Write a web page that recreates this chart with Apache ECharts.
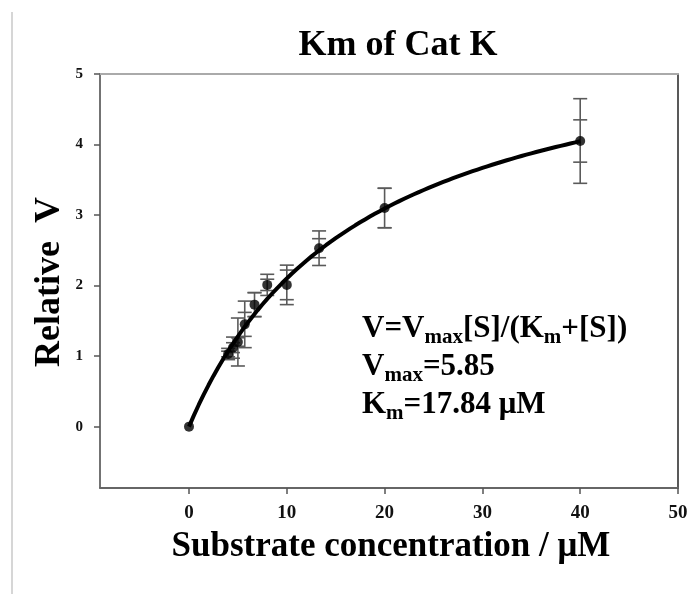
<!DOCTYPE html>
<html>
<head>
<meta charset="utf-8">
<title>Km of Cat K</title>
<script src="https://cdn.jsdelivr.net/npm/echarts@6/dist/echarts.min.js"></script>
<style>
  html, body { margin: 0; padding: 0; background: #ffffff; }
  #chart { width: 697px; height: 594px; }
</style>
</head>
<body>
<div id="chart"></div>
<script>
// Measured substrate concentrations (µM) and relative velocities
const concentration = [0, 4.0, 4.5, 5.0, 5.7, 6.7, 8.0, 10, 13.3, 20, 40];
const relativeV     = [0, 1.03, 1.12, 1.20, 1.45, 1.73, 2.01, 2.01, 2.53, 3.10, 4.05];
// Error bar half-widths (two sets of error estimates per point)
const errorOuter    = [0, 0.08, 0.15, 0.34, 0.33, 0.17, 0.15, 0.28, 0.245, 0.28, 0.60];
const errorInner    = [0, 0.04, 0.07, 0.06, 0.17, 0.17, 0.08, 0.21, 0.135, 0.28, 0.30];

// Michaelis–Menten fit parameters
const VMAX = 5.85;
const KM = 17.84;
const FIT_END = 40;

// Axis tick labels
const xTicks = [0, 10, 20, 30, 40, 50];
const yTicks = [0, 1, 2, 3, 4, 5];

const SERIF = "'Liberation Serif', 'DejaVu Serif', serif";

const points = concentration.map((c, i) => [c, relativeV[i]]);
const errorData = concentration.map((c, i) => [c, relativeV[i], errorOuter[i], errorInner[i]]);

// Fitted curve V = Vmax[S]/(Km+[S]) sampled along the concentration range
const fitCurve = [];
for (let s = 0; s <= FIT_END * 2; s++) {
  const S = s / 2;
  fitCurve.push([S, VMAX * S / (KM + S)]);
}

const chart = echarts.init(document.getElementById('chart'), null, { renderer: 'canvas' });

const tickLabelX = { fontFamily: SERIF, fontWeight: 'bold', fontSize: 19, color: '#111' };
const tickLabelY = { fontFamily: SERIF, fontWeight: 'bold', fontSize: 15, color: '#111' };

chart.setOption({
  backgroundColor: '#ffffff',
  animation: false,
  grid: { left: 100, top: 74, right: 19, bottom: 106, containLabel: false },
  xAxis: [
    {
      type: 'value', min: -9.1, max: 50, position: 'bottom',
      splitLine: { show: false },
      axisLine: { show: true, onZero: false, lineStyle: { color: '#666', width: 2 } },
      axisTick: { show: true, inside: false, length: 6, customValues: xTicks, lineStyle: { color: '#555', width: 1.5 } },
      axisLabel: Object.assign({ show: true, margin: 16, customValues: xTicks }, tickLabelX)
    },
    {
      type: 'value', min: -9.1, max: 50, position: 'top',
      splitLine: { show: false },
      axisLine: { show: true, onZero: false, lineStyle: { color: '#aaa', width: 2 } },
      axisTick: { show: false }, axisLabel: { show: false }
    }
  ],
  yAxis: [
    {
      type: 'value', min: -0.87, max: 5, position: 'left',
      splitLine: { show: false },
      axisLine: { show: true, onZero: false, lineStyle: { color: '#444', width: 1.5 } },
      axisTick: { show: true, inside: false, length: 6, customValues: yTicks, lineStyle: { color: '#555', width: 1.5 } },
      axisLabel: Object.assign({ show: true, margin: 17, customValues: yTicks }, tickLabelY)
    },
    {
      type: 'value', min: -0.87, max: 5, position: 'right',
      splitLine: { show: false },
      axisLine: { show: true, onZero: false, lineStyle: { color: '#222', width: 1.5 } },
      axisTick: { show: false }, axisLabel: { show: false }
    }
  ],
  graphic: [
    // thin page rule at the left edge
    { type: 'line', shape: { x1: 12, y1: 12, x2: 12, y2: 594 }, style: { stroke: '#c8c8c8', lineWidth: 1.5 }, silent: true },
    {
      type: 'text', x: 398, y: 46,
      style: { text: 'Km of Cat K', fontFamily: SERIF, fontWeight: 'bold', fontSize: 36, fill: '#000', align: 'center', verticalAlign: 'middle' }
    },
    {
      type: 'text', x: 391, y: 547,
      style: { text: 'Substrate concentration / \u03bcM', fontFamily: SERIF, fontWeight: 'bold', fontSize: 35, fill: '#000', align: 'center', verticalAlign: 'middle' }
    },
    {
      type: 'text', x: 50, y: 282, rotation: Math.PI / 2,
      style: { text: 'Relative  V', fontFamily: SERIF, fontWeight: 'bold', fontSize: 36, fill: '#000', align: 'center', verticalAlign: 'middle' }
    },
    {
      type: 'text', x: 362, y: 310,
      style: {
        text: '{a|V=V}{s|max}{a|[S]/(K}{s|m}{a|+[S])}\n' +
              '{a|V}{s|max}{a|=' + VMAX.toFixed(2) + '}\n' +
              '{a|K}{s|m}{a|=' + KM.toFixed(2) + ' \u03bcM}',
        verticalAlign: 'top', align: 'left',
        rich: {
          a: { fontFamily: SERIF, fontWeight: 'bold', fontSize: 31, lineHeight: 38, color: '#000', verticalAlign: 'middle' },
          s: { fontFamily: SERIF, fontWeight: 'bold', fontSize: 21, lineHeight: 16, color: '#000', verticalAlign: 'bottom' }
        }
      }
    }
  ],
  series: [
    {
      name: 'Error',
      type: 'custom',
      xAxisIndex: 0, yAxisIndex: 0,
      data: errorData,
      z: 2,
      renderItem: function (params, api) {
        const x = api.value(0), y = api.value(1), eo = api.value(2), ei = api.value(3);
        if (!eo) return null;
        const top = api.coord([x, y + eo]);
        const bot = api.coord([x, y - eo]);
        const topI = api.coord([x, y + ei]);
        const botI = api.coord([x, y - ei]);
        const hw = 7;
        const st = { stroke: '#5a5a5a', lineWidth: 1.6 };
        const cap = (p) => ({ type: 'line', shape: { x1: p[0] - hw, y1: p[1], x2: p[0] + hw, y2: p[1] }, style: st });
        return {
          type: 'group',
          children: [
            { type: 'line', shape: { x1: top[0], y1: top[1], x2: bot[0], y2: bot[1] }, style: st },
            cap(top), cap(bot), cap(topI), cap(botI)
          ]
        };
      }
    },
    {
      name: 'Fit',
      type: 'line',
      xAxisIndex: 0, yAxisIndex: 0,
      data: fitCurve,
      showSymbol: false,
      smooth: false,
      z: 3,
      lineStyle: { color: '#000', width: 4 }
    },
    {
      name: 'Relative V',
      type: 'scatter',
      xAxisIndex: 0, yAxisIndex: 0,
      data: points,
      symbol: 'circle',
      symbolSize: 10,
      z: 4,
      itemStyle: { color: '#000' }
    }
  ]
});
</script>
</body>
</html>
